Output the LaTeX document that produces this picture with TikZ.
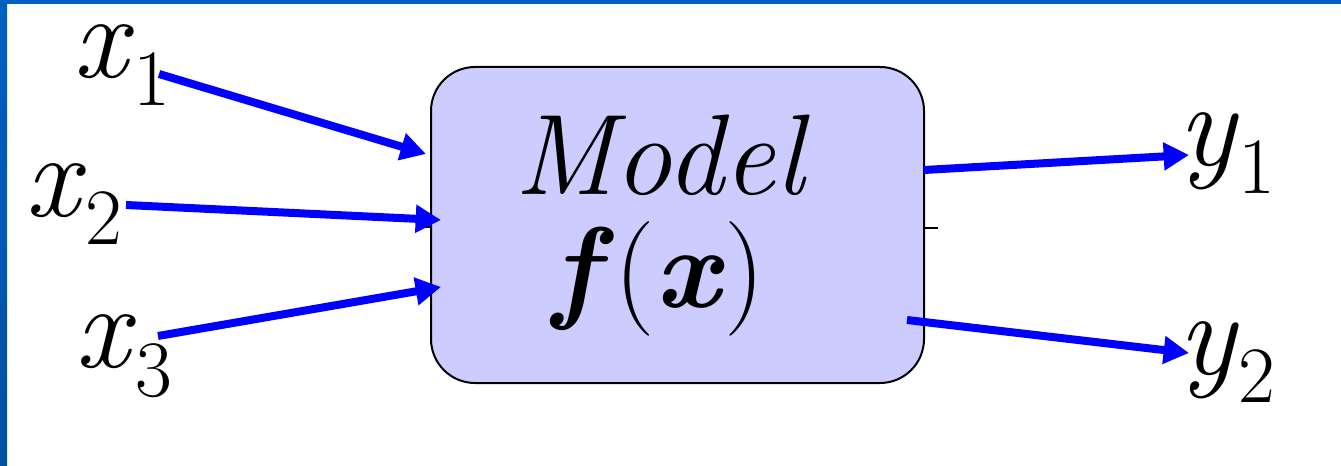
\documentclass[tikz,border=0pt]{standalone}
\usepackage{fontspec}
\usetikzlibrary{arrows.meta}
\definecolor{boxfill}{RGB}{204,204,255}
\definecolor{bandtop}{RGB}{0,96,192}
\definecolor{bandbot}{RGB}{0,80,160}
\newcommand\sublab[2]{\textit{#1}\raisebox{-21pt}{\fontsize{60}{60}\selectfont #2}}
\tikzset{
  lab/.style={inner sep=0pt, anchor=base west, font=\fontsize{90}{90}\selectfont},
  arr/.style={draw=blue, line width=6pt, -{Triangle[length=19pt,width=20pt]}},
  modelbox/.style={draw=black, line width=1.5pt, fill=boxfill, rounded corners=33pt,
    minimum width=369.75pt, minimum height=237pt, inner sep=0pt},
  tick/.style={draw=black, line width=1.5pt},
}
\begin{document}
\begin{tikzpicture}[x=0.75pt,y=-0.75pt]
\useasboundingbox (0,0) rectangle (1341,466);
\fill[white] (0,0) rectangle (1341,466);
\shade[top color=bandtop, bottom color=bandbot] (0,0) rectangle (7,466);
\fill[bandtop] (0,0) rectangle (1341,4);
% model box
\node[modelbox] (box) at (677.5,225) {};
\node[inner sep=0pt, anchor=base, font=\fontsize{86}{86}\selectfont] (model) at (662,195) {\textit{Model}};
\node[inner sep=0pt, anchor=base, font=\fontsize{86}{86}\selectfont] (fx) at (659,308) {\textbf{\textit{f}}(\textbf{\textit{x}})};
% small ticks
\draw[tick] ([yshift=-2.25pt]box.east) -- ++(13,0);
\draw[tick] ([yshift=-1.5pt]box.west) -- ++(-7,0);
% labels
\node[lab] (x1) at (73,78) {\sublab{x}{1}};
\node[lab] (x2) at (25,217) {\sublab{x}{2}};
\node[lab] (x3) at (75,368) {\sublab{x}{3}};
\node[lab] (y1) at (1178,166) {\sublab{y}{1}};
\node[lab] (y2) at (1178,374) {\sublab{y}{2}};
% connector ends
\coordinate (s1) at (159,74);
\coordinate (t1) at (426,154);
\coordinate (s2) at (126,205);
\coordinate (t2) at (441,220);
\coordinate (s3) at (158,336);
\coordinate (t3) at (441,287);
\coordinate (s4) at (924,170);
\coordinate (t4) at (1189,155);
\coordinate (s5) at (907,320);
\coordinate (t5) at (1189,353);
\draw[arr] (s1) -- (t1);
\draw[arr] (s2) -- (t2);
\draw[arr] (s3) -- (t3);
\draw[arr] (s4) -- (t4);
\draw[arr] (s5) -- (t5);
\end{tikzpicture}
\end{document}
